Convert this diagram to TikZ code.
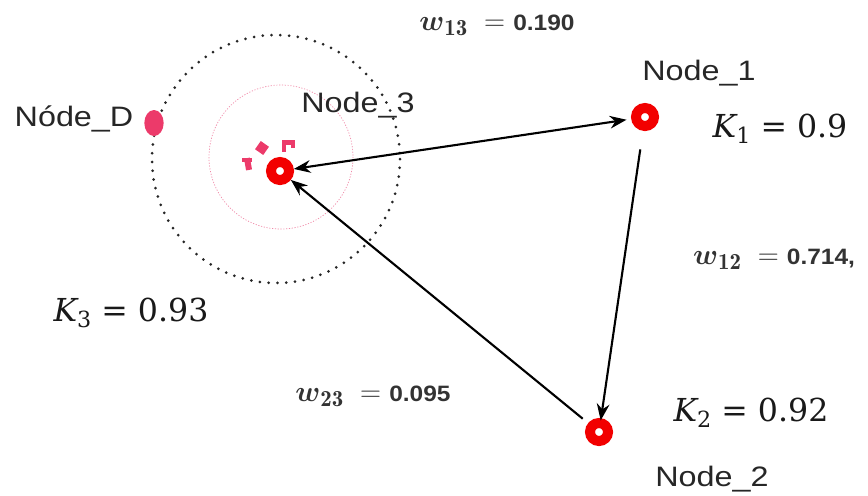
\documentclass[tikz,border=0pt]{standalone}
\usepackage{fontspec}
\setsansfont{Liberation Sans}[FakeStretch=1.15]
\newfontfamily\numfont{Liberation Sans}[FakeStretch=1.1]
\newfontfamily\gainfont{DejaVu Serif}
\usepackage{amsmath}
\usepackage{tikz}
\usetikzlibrary{arrows.meta, positioning, shapes.geometric}
\definecolor{dotRed}{HTML}{F20000}
\definecolor{dotPink}{HTML}{EC3A6A}
\definecolor{ringPink}{HTML}{F08AA8}
\newcommand{\gainlabel}[2]{{\itshape K}\raisebox{-0.35ex}{\fontsize{19}{22}\selectfont #1} = #2}

\begin{document}
\begin{tikzpicture}[x=0.03cm, y=-0.03cm,
  station/.style={circle, fill=white, draw=dotRed, line width=0.3cm, minimum size=0.54cm, inner sep=0pt},
  tag/.style={font=\sffamily\fontsize{24}{28}\selectfont, text=black!85, inner sep=1pt},
  gain/.style={font=\gainfont\fontsize{27}{31}\selectfont, text=black!90, inner sep=1pt},
  weight/.style={font=\fontsize{28}{32}\selectfont, text=black!80, inner sep=1pt},
  link/.style={line width=1.8pt, -{Stealth[length=0.5cm, width=0.38cm]}},
]
  \useasboundingbox (0,0) rectangle (868,495);

  % range rings round Node_3
  \draw[black!85, line width=0.09cm, line cap=round, dash pattern=on 0pt off 7.5pt] (276,159) circle[radius=124];
  \draw[ringPink, line width=0.6pt, dash pattern=on 1pt off 1.4pt] (281,157) circle[radius=72];

  \node[station] (n1) at (645,117) {};
  \node[station] (n2) at (599,432) {};
  \node[station] (n3) at (280,171) {};
  \node[ellipse, fill=dotPink, minimum width=0.58cm, minimum height=0.78cm, inner sep=0pt] (nd) at (154,123) {};

  % spinner marks
  \fill[dotPink, rotate around={10:(248,164)}] (245,158) rectangle (251,170);
  \fill[dotPink] (242,158) rectangle (252,162);
  \fill[dotPink, rotate around={-35:(262,148)}] (257,143) rectangle (267,153);
  \fill[dotPink] (282,140) rectangle (286,152);
  \fill[dotPink] (284,140) rectangle (294,145);
  \fill[dotPink] (291,140) rectangle (295,148);

  \node[tag] (l1) at (699,73) {Node\_1};
  \node[tag] (l2) at (712,479) {Node\_2};
  \node[tag] (l3) at (358,105) {Node\_3};
  \node[tag] (ld) at (74,119) {Nóde\_D};

  \node[gain] (k1) at (780,129) {\gainlabel{1}{0.9}};
  \node[gain] (k2) at (751,413) {\gainlabel{2}{0.92}};
  \node[gain] (k3) at (131,313) {\gainlabel{3}{0.93}};

  \node[weight] (w13) at (497,25) {$\boldsymbol{w}_{\mathbf{13}} \;=\; $\numfont\bfseries\fontsize{19}{22}\selectfont 0.190};
  \node[weight] (w12) at (774,259) {$\boldsymbol{w}_{\mathbf{12}} \;=\; $\numfont\bfseries\fontsize{19}{22}\selectfont 0.714,};
  \node[weight] (w23) at (373,396) {$\boldsymbol{w}_{\mathbf{23}} \;=\; $\numfont\bfseries\fontsize{19}{22}\selectfont 0.095};

  \draw[link, {Stealth[length=0.5cm, width=0.38cm]}-{Stealth[length=0.5cm, width=0.38cm]}, shorten >=4pt] (n3) -- (n1);
  \draw[link, shorten <=16pt, shorten >=-2pt] (n1) -- (n2);
  \draw[link, shorten <=6pt] (n2) -- (n3);
\end{tikzpicture}
\end{document}
